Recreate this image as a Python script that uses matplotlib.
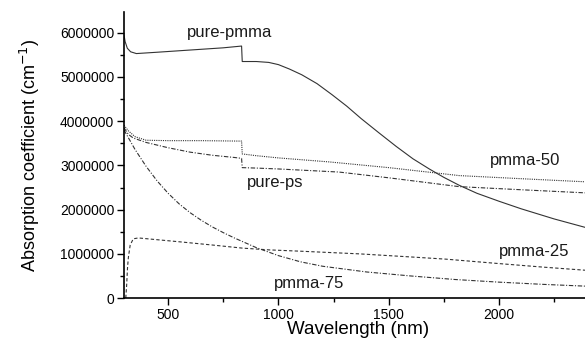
import matplotlib
matplotlib.use('Agg')
import matplotlib.pyplot as plt
from matplotlib.ticker import MultipleLocator

plt.rcParams['font.family'] = ['Liberation Sans', 'DejaVu Sans']

# wavelength (nm) and absorption coefficient (cm^-1, in millions)
pure_pmma_wl = [300, 305, 315, 330, 356, 450, 600, 750, 833, 836, 900, 956, 1000, 1050, 1106,
                1175, 1243, 1310, 1375, 1455, 1534, 1610, 1684, 1750, 1820, 1900, 2000, 2100,
                2250, 2390]
pure_pmma = [5.95, 5.80, 5.65, 5.57, 5.53, 5.56, 5.61, 5.66, 5.70, 5.35, 5.35, 5.33, 5.28, 5.18,
             5.05, 4.85, 4.60, 4.34, 4.06, 3.74, 3.43, 3.15, 2.92, 2.73, 2.55, 2.37, 2.19, 2.02,
             1.79, 1.60]

pmma_50_wl = [300, 320, 350, 400, 500, 650, 833, 836, 900, 1000, 1229, 1500, 1820, 2100, 2390]
pmma_50 = [3.91, 3.78, 3.65, 3.57, 3.56, 3.56, 3.55, 3.26, 3.22, 3.17, 3.08, 2.95, 2.77, 2.70, 2.63]

pure_ps_wl = [300, 320, 342, 400, 500, 600, 700, 800, 833, 836, 900, 1000, 1275, 1500, 1820,
              2100, 2390]
pure_ps = [3.85, 3.70, 3.62, 3.52, 3.40, 3.30, 3.23, 3.18, 3.16, 2.95, 2.94, 2.92, 2.85, 2.72,
           2.52, 2.45, 2.38]

pmma_75_wl = [300, 350, 400, 450, 500, 550, 600, 650, 700, 750, 800, 900, 1000, 1100, 1200, 1400,
              1600, 1800, 2000, 2200, 2390]
pmma_75 = [3.80, 3.36, 2.98, 2.65, 2.37, 2.13, 1.93, 1.76, 1.61, 1.48, 1.36, 1.14, 0.96, 0.82,
           0.72, 0.59, 0.50, 0.42, 0.36, 0.31, 0.27]

pmma_25_wl = [308, 312, 316, 320, 328, 342, 365, 450, 557, 700, 797, 836, 957, 1100, 1366, 1600,
              1760, 2000, 2200, 2390]
pmma_25 = [0.0, 0.30, 0.70, 0.93, 1.20, 1.34, 1.36, 1.32, 1.27, 1.20, 1.15, 1.13, 1.09, 1.06, 1.00,
           0.93, 0.88, 0.78, 0.70, 0.63]

series = [
    (pure_pmma_wl, pure_pmma, '-'),
    (pmma_50_wl, pmma_50, (0, (1, 1))),
    (pure_ps_wl, pure_ps, (0, (4, 1.5, 1, 1.5))),
    (pmma_75_wl, pmma_75, (0, (4, 1.5, 1, 1.5))),
    (pmma_25_wl, pmma_25, (0, (3, 2))),
]

labels = [('pure-pmma', 584, 6.0), ('pmma-50', 1957, 3.12), ('pure-ps', 857, 2.62),
          ('pmma-25', 2002, 1.06), ('pmma-75', 979, 0.34)]

fig = plt.figure(figsize=(5.85, 3.43), dpi=100)
ax = fig.add_axes([0.212, 0.131, 0.788, 0.834])

for wl, val, ls in series:
    ax.plot(wl, [v * 1e6 for v in val], color='#333333', lw=0.8, ls=ls)

for txt, x, y in labels:
    ax.text(x, y * 1e6, txt, fontsize=12, ha='left', va='center', color='#1a1a1a')

ax.set_xlim(300, 2390)
ax.set_ylim(0, 6.47e6)
ax.xaxis.set_major_locator(MultipleLocator(500))
ax.xaxis.set_minor_locator(MultipleLocator(250))
ax.yaxis.set_major_locator(MultipleLocator(1e6))
ax.yaxis.set_minor_locator(MultipleLocator(5e5))
ax.ticklabel_format(style='plain', useOffset=False)
ax.tick_params(which='major', direction='out', length=5, width=1, labelsize=10, pad=2)
ax.tick_params(which='minor', direction='out', length=3, width=1)
ax.spines['top'].set_visible(False)
ax.spines['right'].set_visible(False)
for s in ('left', 'bottom'):
    ax.spines[s].set_linewidth(1.2)

ax.set_xlabel('Wavelength (nm)', fontsize=13.5)
ax.xaxis.set_label_coords(0.508, -0.08)
ax.xaxis.label.set_va('top')
ax.set_ylabel('Absorption coefficient (cm$^{-1}$)', fontsize=13, labelpad=13)

fig.savefig('out.png', dpi=100, facecolor='white')
